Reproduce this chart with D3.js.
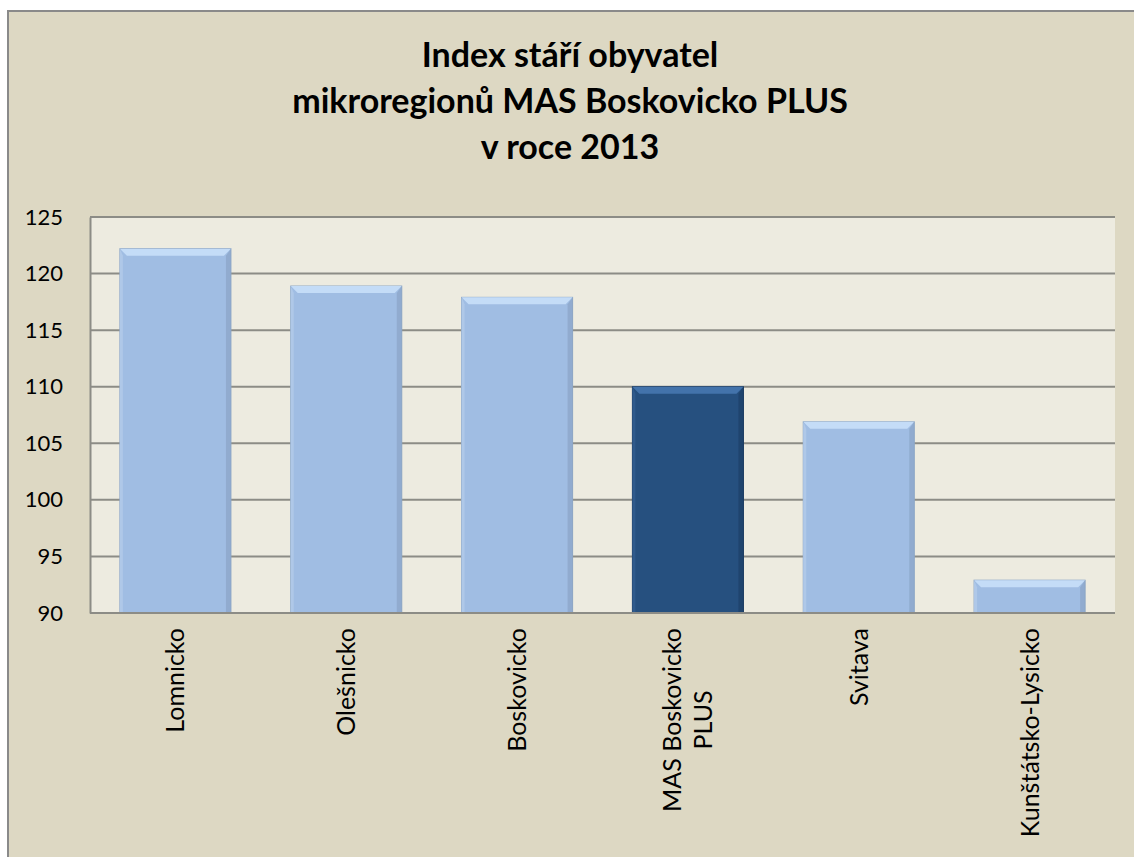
<!DOCTYPE html>
<html lang="cs">

<head>
  <meta charset="utf-8" />
  <title>Index stáří obyvatel</title>
  <script type="text/javascript" src="https://cdn.jsdelivr.net/npm/d3@7"></script>
  <style>
    body {
      margin: 0;
      background: #ffffff;
    }

    text {
      font-family: Lato, "Open Sans", sans-serif;
      fill: #000000;
    }
  </style>
</head>

<body>
  <script type="text/javascript">
    // data
    var titleLines = ["Index stáří obyvatel", "mikroregionů MAS Boskovicko PLUS", "v roce 2013"];
    var categories = ["Lomnicko", "Olešnicko", "Boskovicko", "MAS Boskovicko PLUS", "Svitava", "Kunštátsko-Lysicko"];
    var values = [122.2, 118.9, 117.9, 110.0, 106.9, 92.9];
    var highlighted = ["MAS Boskovicko PLUS"];
    var yTicks = [90, 95, 100, 105, 110, 115, 120, 125];

    var width = 1134;
    var height = 857;
    var plot = { left: 90, right: 1115, top: 217, bottom: 613 };

    var svg = d3.select("body")
      .append("svg")
      .attr("width", width)
      .attr("height", height);

    // outer chart area (cropped on the right and bottom)
    svg.append("rect")
      .attr("x", 8)
      .attr("y", 11)
      .attr("width", width + 20)
      .attr("height", height + 20)
      .attr("fill", "#ddd8c3")
      .attr("stroke", "#8a8a8a")
      .attr("stroke-width", 2);

    // title
    svg.append("g")
      .selectAll("text")
      .data(titleLines)
      .enter()
      .append("text")
      .attr("x", 570)
      .attr("y", function (d, i) { return 67 + i * 46; })
      .attr("text-anchor", "middle")
      .attr("font-size", 34)
      .attr("font-weight", "bold")
      .text(function (d) { return d; });

    var x = d3.scaleBand()
      .domain(categories)
      .range([plot.left, plot.right])
      .paddingInner(0.35)
      .paddingOuter(0.175);

    var y = d3.scaleLinear()
      .domain([90, 125])
      .range([plot.bottom, plot.top]);

    // plot area
    svg.append("rect")
      .attr("x", plot.left)
      .attr("y", plot.top)
      .attr("width", plot.right - plot.left)
      .attr("height", plot.bottom - plot.top)
      .attr("fill", "#edebe0");

    // gridlines
    svg.append("g")
      .selectAll("line")
      .data(yTicks)
      .enter()
      .append("line")
      .attr("x1", plot.left)
      .attr("x2", plot.right)
      .attr("y1", function (d) { return y(d); })
      .attr("y2", function (d) { return y(d); })
      .attr("stroke", "#8c8c86")
      .attr("stroke-width", 2);

    // y axis
    var yAxis = svg.append("g")
      .attr("transform", "translate(" + plot.left + ",0)")
      .call(d3.axisLeft(y).tickValues(yTicks).tickSize(0).tickPadding(27));
    yAxis.select(".domain").attr("stroke", "#8c8c86").attr("stroke-width", 2);
    yAxis.selectAll("text")
      .attr("font-size", 22)
      .attr("font-family", "Lato, sans-serif")
      .attr("fill", "#000");

    // bars with bevel
    var bars = svg.append("g")
      .selectAll("g")
      .data(categories)
      .enter()
      .append("g");

    function isDark(d) { return highlighted.indexOf(d) >= 0; }

    bars.append("rect")
      .attr("x", function (d) { return x(d); })
      .attr("y", function (d, i) { return y(values[i]); })
      .attr("width", x.bandwidth())
      .attr("height", function (d, i) { return y(90) - y(values[i]); })
      .attr("fill", function (d) { return isDark(d) ? "#26507f" : "#a0bde3"; })
      .attr("stroke", function (d) { return isDark(d) ? "#1c3b60" : "#8ea6c4"; })
      .attr("stroke-width", 1);

    var bevel = 7;
    function poly(pts) { return pts.map(function (p) { return p.join(","); }).join(" "); }

    // top bevel
    bars.append("polygon")
      .attr("points", function (d, i) {
        var x0 = x(d), x1 = x(d) + x.bandwidth(), y0 = y(values[i]);
        return poly([[x0, y0], [x1, y0], [x1 - bevel, y0 + bevel], [x0 + bevel, y0 + bevel]]);
      })
      .attr("fill", function (d) { return isDark(d) ? "#4373ab" : "#c4dcf7"; });

    // left bevel
    bars.append("polygon")
      .attr("points", function (d, i) {
        var x0 = x(d), y0 = y(values[i]), yb = y(90);
        return poly([[x0, y0], [x0 + 3, y0 + bevel], [x0 + 3, yb], [x0, yb]]);
      })
      .attr("fill", function (d) { return isDark(d) ? "#2f5a8c" : "#afc8e8"; });

    // right bevel
    bars.append("polygon")
      .attr("points", function (d, i) {
        var x1 = x(d) + x.bandwidth(), y0 = y(values[i]), yb = y(90);
        return poly([[x1, y0], [x1 - 5, y0 + bevel], [x1 - 5, yb], [x1, yb]]);
      })
      .attr("fill", function (d) { return isDark(d) ? "#1d3f66" : "#8aa4c6"; })
      .attr("opacity", 0.7);

    // x axis baseline
    svg.append("line")
      .attr("x1", plot.left)
      .attr("x2", plot.right)
      .attr("y1", plot.bottom)
      .attr("y2", plot.bottom)
      .attr("stroke", "#8c8c86")
      .attr("stroke-width", 2);

    // category labels, rotated
    var labelTop = 628;
    var labels = svg.append("g")
      .selectAll("g")
      .data(categories)
      .enter()
      .append("g")
      .attr("transform", function (d) {
        return "translate(" + (x(d) + x.bandwidth() / 2) + "," + labelTop + ") rotate(-90)";
      });

    labels.each(function (d) {
      var g = d3.select(this);
      var lines = [d];
      if (d.indexOf(" ") > 0 && d.length > 18) {
        var k = d.lastIndexOf(" ");
        lines = [d.slice(0, k), d.slice(k + 1)];
      }
      var t = g.selectAll("text")
        .data(lines)
        .enter()
        .append("text")
        .attr("font-size", 25)
        .attr("text-anchor", "middle")
        .text(function (s) { return s; });
      var w = d3.max(t.nodes(), function (n) { return n.getComputedTextLength(); });
      var lh = 31;
      t.attr("x", -w / 2)
        .attr("y", function (s, i) { return (i - (lines.length - 1) / 2) * lh; })
        .attr("dy", "0.36em");
    });
  </script>
</body>

</html>
